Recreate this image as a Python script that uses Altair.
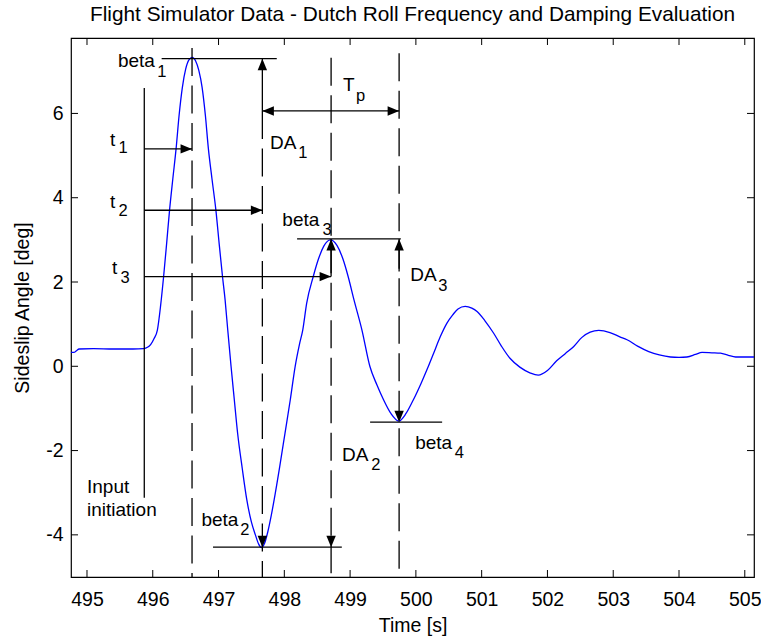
import altair as alt
import pandas as pd

# ---------------- data ----------------
title_text = "Flight Simulator Data - Dutch Roll Frequency and Damping Evaluation"

t_curve = [494.757, 494.80, 494.84, 494.88, 495.10, 495.40, 495.70, 495.86, 495.92, 495.97,
           496.02, 496.07, 496.12, 496.165, 496.21, 496.255, 496.305, 496.355, 496.40, 496.45,
           496.50, 496.55, 496.60, 496.65, 496.70, 496.75, 496.80, 496.845, 496.90, 496.96,
           497.01, 497.06, 497.10, 497.14, 497.19, 497.24, 497.29, 497.36, 497.43, 497.50,
           497.56, 497.61, 497.65, 497.70, 497.75, 497.80, 497.845, 497.93, 498.01, 498.09,
           498.165, 498.23, 498.28, 498.34, 498.44, 498.52, 498.60, 498.70, 498.80, 498.89,
           498.97, 499.06, 499.18, 499.30, 499.41, 499.51, 499.62, 499.74, 499.85, 499.96,
           500.08, 500.19, 500.27, 500.37, 500.47, 500.56, 500.64, 500.75, 500.85, 500.93,
           501.05, 501.18, 501.30, 501.43, 501.58, 501.74, 501.86, 502.00, 502.14, 502.27,
           502.40, 502.52, 502.65, 502.78, 502.95, 503.10, 503.21, 503.37, 503.54, 503.70,
           503.87, 504.00, 504.12, 504.25, 504.35, 504.50, 504.63, 504.75, 504.86, 505.00,
           505.14]
beta_curve = [0.33, 0.33, 0.37, 0.41, 0.42, 0.41, 0.41, 0.42, 0.45, 0.52,
              0.66, 0.86, 1.45, 2.13, 2.90, 3.70, 4.45, 5.17, 5.95, 6.62,
              7.05, 7.27, 7.33, 7.25, 7.02, 6.62, 5.95, 5.17, 4.45, 3.70,
              2.90, 2.13, 1.57, 0.86, 0.00, -0.80, -1.59, -2.42, -3.17, -3.70,
              -4.00, -4.22, -4.30, -4.20, -3.92, -3.55, -3.17, -2.38, -1.59, -0.80,
              0.00, 0.52, 0.86, 1.50, 2.13, 2.55, 2.85, 3.00, 2.87, 2.55,
              2.13, 1.57, 0.86, 0.00, -0.45, -0.80, -1.12, -1.30, -1.12, -0.80,
              -0.40, 0.00, 0.31, 0.70, 1.02, 1.22, 1.36, 1.42, 1.38, 1.30,
              1.08, 0.79, 0.48, 0.19, -0.02, -0.16, -0.21, -0.10, 0.13, 0.30,
              0.47, 0.68, 0.81, 0.85, 0.80, 0.70, 0.63, 0.48, 0.35, 0.27,
              0.22, 0.21, 0.22, 0.28, 0.33, 0.32, 0.31, 0.26, 0.22, 0.22,
              0.22]

x_ticks = [495, 496, 497, 498, 499, 500, 501, 502, 503, 504, 505]
y_ticks = [-4, -2, 0, 2, 4, 6]
x_domain = [494.757, 505.14]
y_domain = [-5.0, 7.79]

# solid annotation segments
seg_x1 = [495.871, 496.135, 495.871, 495.871, 495.871, 497.666, 497.666, 498.194, 498.711, 499.745, 496.916, 499.304]
seg_x2 = [495.871, 497.885, 496.597, 497.666, 498.711, 497.666, 499.745, 499.771, 498.711, 499.745, 498.874, 500.399]
seg_y1 = [6.605, 7.30, 5.158, 3.703, 2.128, 7.30, 6.059, 3.022, 3.022, 3.022, -4.292, -1.326]
seg_y2 = [-3.12, 7.30, 5.158, 3.703, 2.128, 6.059, 6.059, 3.022, 2.128, 2.25, -4.292, -1.326]

# dashed vertical lines
dash_x = [496.597, 497.666, 498.711, 499.745]
dash_top = [7.55, 6.059, 7.32, 7.43]
dash_bottom = [-5.0, -5.0, -5.0, -5.0]

# arrowheads (tip positions and direction)
arrow_x = [496.597, 497.666, 498.711, 497.666, 497.666, 499.745, 498.711, 499.745, 497.666, 498.711, 499.745]
arrow_y = [5.158, 3.703, 2.128, 7.30, 6.059, 6.059, 3.022, 3.022, -4.292, -4.292, -1.326]
arrow_dir = ["right", "right", "right", "up", "left", "right", "up", "up", "down", "down", "down"]

# text labels
main_labels = ["beta", "t", "t", "t", "DA", "T", "beta", "DA", "DA", "beta", "beta", "Input", "initiation"]
main_x = [495.47, 495.35, 495.35, 495.38, 497.783, 498.893, 497.97, 499.913, 498.878, 499.989, 496.74, 495.0, 495.0]
main_y = [7.25, 5.372, 3.90, 2.334, 5.30, 6.676, 3.473, 2.168, -2.102, -1.817, -3.644, -2.861, -3.407]
sub_labels = ["1", "1", "2", "3", "1", "p", "3", "3", "2", "4", "2"]
sub_x = [496.07, 495.48, 495.48, 495.51, 498.21, 499.09, 498.58, 500.34, 499.32, 500.59, 497.33]
sub_y = [6.98, 5.18, 3.69, 2.10, 5.06, 6.41, 3.236, 1.907, -2.34, -2.05, -3.88]

# ---------------- styling ----------------
W, H = 683, 539
FONT = "Liberation Sans"
TICK = 7
arrow_paths = {
    "up": "M0,0L-0.47,1.15L0.47,1.15Z",
    "down": "M0,0L-0.47,-1.15L0.47,-1.15Z",
    "right": "M0,0L-1.15,-0.47L-1.15,0.47Z",
    "left": "M0,0L1.15,-0.47L1.15,0.47Z",
}

xs = alt.Scale(domain=x_domain, nice=False, zero=False)
ys = alt.Scale(domain=y_domain, nice=False, zero=False)

df_curve = pd.DataFrame({"t": t_curve, "v": beta_curve})
df_seg = pd.DataFrame({"t": seg_x1, "t2": seg_x2, "v": seg_y1, "v2": seg_y2})
df_dash = pd.DataFrame({"t": dash_x, "v": dash_top, "v2": dash_bottom})
df_arrow = pd.DataFrame({"t": arrow_x, "v": arrow_y, "p": [arrow_paths[d] for d in arrow_dir]})
df_main = pd.DataFrame({"t": main_x, "v": main_y, "s": main_labels})
df_sub = pd.DataFrame({"t": sub_x, "v": sub_y, "s": sub_labels})
df_xt = pd.DataFrame({"t": x_ticks})
df_yt = pd.DataFrame({"v": y_ticks})
df_title = pd.DataFrame({"s": [title_text]})

x_axis = alt.Axis(values=x_ticks, title="Time [s]", ticks=False, tickSize=0, domain=False, grid=False,
                  labelPadding=13, labelFontSize=19.5, labelFont=FONT, labelColor="black",
                  labelFlush=False, labelOverlap=False, labelExpr="'' + datum.value",
                  titleFontSize=19.5, titleFont=FONT, titleFontWeight="normal", titleColor="black",
                  titleX=W / 2, titleY=48, titleBaseline="middle")
y_axis = alt.Axis(values=y_ticks, title="Sideslip Angle [deg]", ticks=False, tickSize=0, domain=False, grid=False,
                  labelPadding=8, labelFontSize=19.5, labelFont=FONT, labelColor="black",
                  labelOverlap=False, labelExpr="'' + datum.value",
                  titleFontSize=19.5, titleFont=FONT, titleFontWeight="normal", titleColor="black",
                  titleX=-49, titleY=H / 2, titleBaseline="middle", titleAngle=-90)


def X(field="t:Q"):
    return alt.X(field, scale=xs, axis=x_axis)


def Y(field="v:Q"):
    return alt.Y(field, scale=ys, axis=y_axis)


curve = alt.Chart(df_curve).mark_line(color="#0000ff", strokeWidth=1.3, interpolate="monotone", clip=True).encode(
    x=X(), y=Y(),
)

dashes = alt.Chart(df_dash).mark_rule(color="black", strokeWidth=1.3, strokeDash=[28, 9.5]).encode(
    x=X(), y=Y(), y2="v2:Q",
)

segs = alt.Chart(df_seg).mark_rule(color="black", strokeWidth=1.3).encode(
    x=X(), x2="t2:Q", y=Y(), y2="v2:Q",
)

arrows = alt.Chart(df_arrow).mark_point(filled=True, size=400, color="black", opacity=1, strokeWidth=0).encode(
    x=X(), y=Y(), shape=alt.Shape("p:N", scale=None),
)

main_text = alt.Chart(df_main).mark_text(align="left", baseline="middle", font=FONT, fontSize=19, color="black").encode(
    x=X(), y=Y(), text="s:N",
)
sub_text = alt.Chart(df_sub).mark_text(align="left", baseline="middle", font=FONT, fontSize=16.5, color="black").encode(
    x=X(), y=Y(), text="s:N",
)

xt_bottom = alt.Chart(df_xt).mark_rule(color="black", strokeWidth=1).encode(
    x=X(), y=alt.value(H), y2=alt.value(H - TICK))
xt_top = alt.Chart(df_xt).mark_rule(color="black", strokeWidth=1).encode(
    x=X(), y=alt.value(0), y2=alt.value(TICK))
yt_left = alt.Chart(df_yt).mark_rule(color="black", strokeWidth=1).encode(
    y=Y(), x=alt.value(0), x2=alt.value(TICK))
yt_right = alt.Chart(df_yt).mark_rule(color="black", strokeWidth=1).encode(
    y=Y(), x=alt.value(W), x2=alt.value(W - TICK))

title = alt.Chart(df_title).mark_text(align="center", baseline="middle", font=FONT, fontSize=20.8, color="black").encode(
    x=alt.value(W / 2), y=alt.value(-23), text="s:N")

chart = alt.layer(
    curve, dashes, segs, arrows, main_text, sub_text, xt_bottom, xt_top, yt_left, yt_right, title
).properties(
    width=W, height=H,
    padding={"left": 71, "top": 38, "right": 7, "bottom": 64},
    autosize=alt.AutoSizeParams(type="none"),
    background="white",
).configure(
    font=FONT,
    view=alt.ViewConfig(stroke="black", strokeWidth=1.2),
)

chart.save("out.html", embed_options={"renderer": "svg", "actions": False})
